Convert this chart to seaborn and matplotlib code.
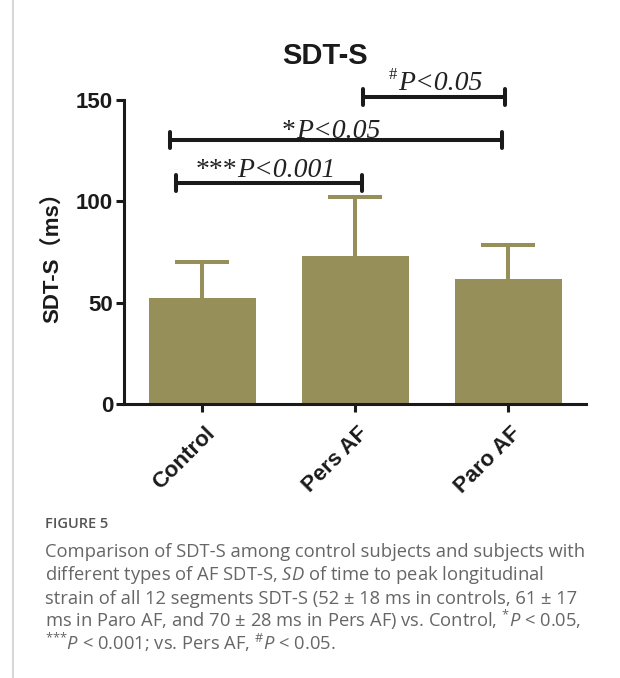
import numpy as np
import matplotlib
matplotlib.use("Agg")
import matplotlib.pyplot as plt
import matplotlib.transforms as mtransforms
from matplotlib.lines import Line2D
import seaborn as sns

# ---- data ----
groups = ["Control", "Pers AF", "Paro AF"]
means = [52.5, 72.8, 61.8]
sds = [17.6, 29.3, 16.6]
yticks = [0, 50, 100, 150]

# significance comparisons: (prefix, p-text)
sig_prefix = ["***", "*", "#"]
sig_text = ["P<0.001", "P<0.05", "P<0.05"]
sig_level = [109.0, 130.2, 151.5]

caption_title = "FIGURE 5"
caption_lines = [
    "Comparison of SDT-S among control subjects and subjects with",
    "different types of AF SDT-S, $SD$ of time to peak longitudinal",
    "strain of all 12 segments SDT-S (52 \u00b1 18 ms in controls, 61 \u00b1 17",
    "ms in Paro AF, and 70 \u00b1 28 ms in Pers AF) vs. Control, $^{{*}}P$ < 0.05,",
    "$^{{*}{*}{*}}P$ < 0.001; vs. Pers AF, $^{\\#}P$ < 0.05.",
]

# ---- style ----
sns.set_style("ticks")
plt.rcParams["font.family"] = ["Liberation Sans", "Noto Sans CJK SC", "DejaVu Sans"]
plt.rcParams["mathtext.fontset"] = "custom"
plt.rcParams["mathtext.rm"] = "Open Sans"
plt.rcParams["mathtext.it"] = "Open Sans:italic"
plt.rcParams["mathtext.bf"] = "Open Sans:bold"

BAR = "#978f5a"
INK = "#1a1a1a"
W, H = 620, 678

fig = plt.figure(figsize=(6.2, 6.78), dpi=100)
fig.patch.set_facecolor("white")
ax = fig.add_axes([124 / W, 1 - 404 / H, (586 - 124) / W, (404 - 100) / H])

sns.barplot(x=groups, y=means, color=BAR, width=0.70, saturation=1,
            linewidth=0, ax=ax, zorder=2)

pos = np.arange(len(groups))
eb = ax.errorbar(pos, means, yerr=[np.zeros(len(sds)), sds], fmt="none",
                 ecolor=BAR, elinewidth=2.9, capsize=19.5, capthick=2.9, zorder=1)
# hide the lower caps (one-sided error bars)
caps = eb.lines[1]
if len(caps) == 2:
    caps[0].set_visible(False)

ax.set_xlim(-0.513, 2.507)
ax.set_ylim(0, 150)
ax.set_yticks(yticks)
ax.set_facecolor("white")
sns.despine(ax=ax)
for s in ("left", "bottom"):
    ax.spines[s].set_linewidth(2.2)
    ax.spines[s].set_color(INK)
ax.tick_params(axis="both", width=2.2, length=5.8, color=INK, labelsize=16,
               labelcolor=INK)
ax.tick_params(axis="y", pad=2)
ax.tick_params(axis="x", pad=8)
ax.set_xlabel("")
for lbl in ax.get_yticklabels():
    lbl.set_fontweight("bold")
offset = mtransforms.ScaledTranslation(2 / 100, 0, fig.dpi_scale_trans)
for lbl in ax.get_xticklabels():
    lbl.set_fontweight("bold")
    lbl.set_rotation(45)
    lbl.set_ha("right")
    lbl.set_va("top")
    lbl.set_rotation_mode("anchor")
    lbl.set_transform(lbl.get_transform() + offset)

ax.set_ylabel("SDT-S\uff08ms\uff09", fontsize=16, fontweight="bold", color=INK)
ax.yaxis.set_label_coords(-0.154, 0.5)
ax.yaxis.label.set_verticalalignment("center")

# ---- significance brackets ----
spans = [(-0.17, 1.04), (-0.21, 1.96), (1.05, 1.98)]
p_start = [0.225, 0.611, 1.278]
text_base = [112.0, 131.2, 154.9]
for (x1, x2), yb, pre, txt, xs, tb in zip(spans, sig_level, sig_prefix, sig_text,
                                          p_start, text_base):
    ax.plot([x1, x2], [yb, yb], color=INK, lw=2.9, clip_on=False,
            solid_capstyle="butt", zorder=5)
    for xe in (x1, x2):
        ax.plot([xe, xe], [yb - 4.1, yb + 4.1], color=INK, lw=2.9,
                clip_on=False, solid_capstyle="round", zorder=5)
    ax.text(xs, tb, txt, family="Liberation Serif", style="italic",
            fontsize=20, color="#222222", ha="left", va="baseline", zorder=6)
    if pre == "#":
        ax.text(xs - 0.005, tb + 5.5, pre, family="Liberation Serif",
                fontsize=12, color="#222222", ha="right", va="baseline", zorder=6)
    else:
        ax.text(xs, tb, pre, family="Liberation Serif", fontsize=20,
                color="#222222", ha="right", va="baseline", zorder=6)

# ---- title ----
fig.text(325 / W, 1 - 55.5 / H, "SDT-S", fontsize=21, fontweight="bold",
         color=INK, ha="center", va="center")

# ---- caption ----
fig.add_artist(Line2D([12.5 / W, 12.5 / W], [0.0, 1.0], color="#cfcfcf", lw=1.2))
fig.text(45 / W, 1 - 528 / H, caption_title, family="Open Sans",
         fontweight="semibold", fontsize=10.5, color="#555555", ha="left",
         va="baseline")
for i, line in enumerate(caption_lines):
    fig.text(45 / W, 1 - (557 + 23.3 * i) / H, line, family="Open Sans",
             fontsize=13.2, color="#666666", ha="left", va="baseline")

fig.savefig("out.png", dpi=100, facecolor="white")
